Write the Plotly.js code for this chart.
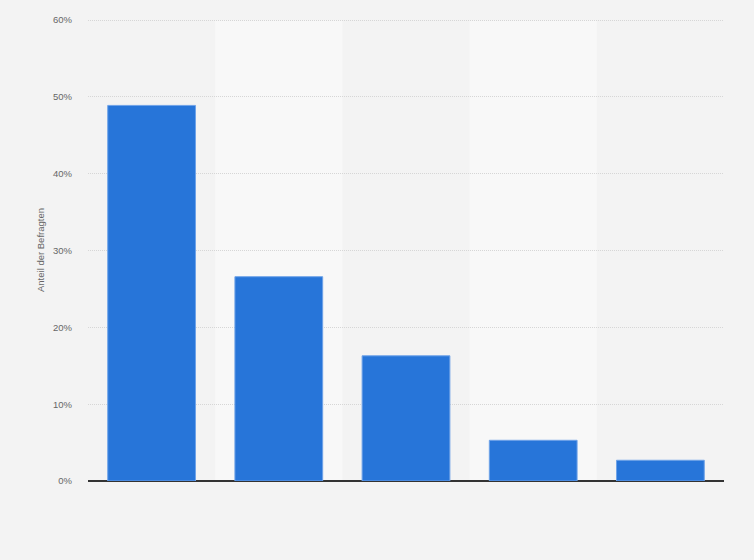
<!DOCTYPE html>
<html>
<head>
<meta charset="utf-8">
<script src="https://cdn.plot.ly/plotly-3.0.1.min.js"></script>
<style>
html, body { margin: 0; padding: 0; background: #f3f3f3; }
#chart { width: 754px; height: 560px; }
</style>
</head>
<body>
<div id="chart"></div>
<script>
// Data
var categories = ["Kategorie 1", "Kategorie 2", "Kategorie 3", "Kategorie 4", "Kategorie 5"];
var shareValues = [48.9, 26.6, 16.3, 5.3, 2.7];
var yTickValues = [0, 10, 20, 30, 40, 50, 60];
var yTickLabels = ["0%", "10%", "20%", "30%", "40%", "50%", "60%"];
var yAxisTitle = "Anteil der Befragten";

// Alternating light bands behind every second category
var bandShapes = [];
for (var i = 1; i < categories.length; i += 2) {
  bandShapes.push({
    type: "rect", xref: "x", yref: "y",
    x0: i - 0.5, x1: i + 0.5, y0: 0, y1: yTickValues[yTickValues.length - 1],
    fillcolor: "#f8f8f8", line: { width: 0 }, layer: "below"
  });
}

var trace = {
  type: "bar",
  x: categories,
  y: shareValues,
  marker: { color: "#2775d9", line: { color: "#6fa3e8", width: 1 } },
  hoverinfo: "x+y"
};

var layout = {
  width: 754, height: 560,
  margin: { l: 88, r: 30, t: 19, b: 79 },
  paper_bgcolor: "#f3f3f3",
  plot_bgcolor: "#f3f3f3",
  bargap: 0.31,
  showlegend: false,
  font: { family: "Liberation Sans, Arial, sans-serif", color: "#666666", size: 10 },
  xaxis: {
    showticklabels: false, showgrid: false, zeroline: false,
    ticks: "", showline: false, fixedrange: true
  },
  yaxis: {
    range: [0, 60.15],
    tickvals: yTickValues, ticktext: yTickLabels,
    showgrid: true, gridcolor: "#d6d6d6", griddash: "1px,1px", gridwidth: 1,
    zeroline: true, zerolinecolor: "#333333", zerolinewidth: 1.5,
    showline: false, ticks: "", ticklabelstandoff: 15,
    tickfont: { size: 9.5, color: "#666666" },
    title: { text: yAxisTitle, font: { size: 9.5, color: "#666666" }, standoff: 6 },
    fixedrange: true
  },
  shapes: bandShapes
};

Plotly.newPlot("chart", [trace], layout, { displayModeBar: false, staticPlot: true });
</script>
</body>
</html>
